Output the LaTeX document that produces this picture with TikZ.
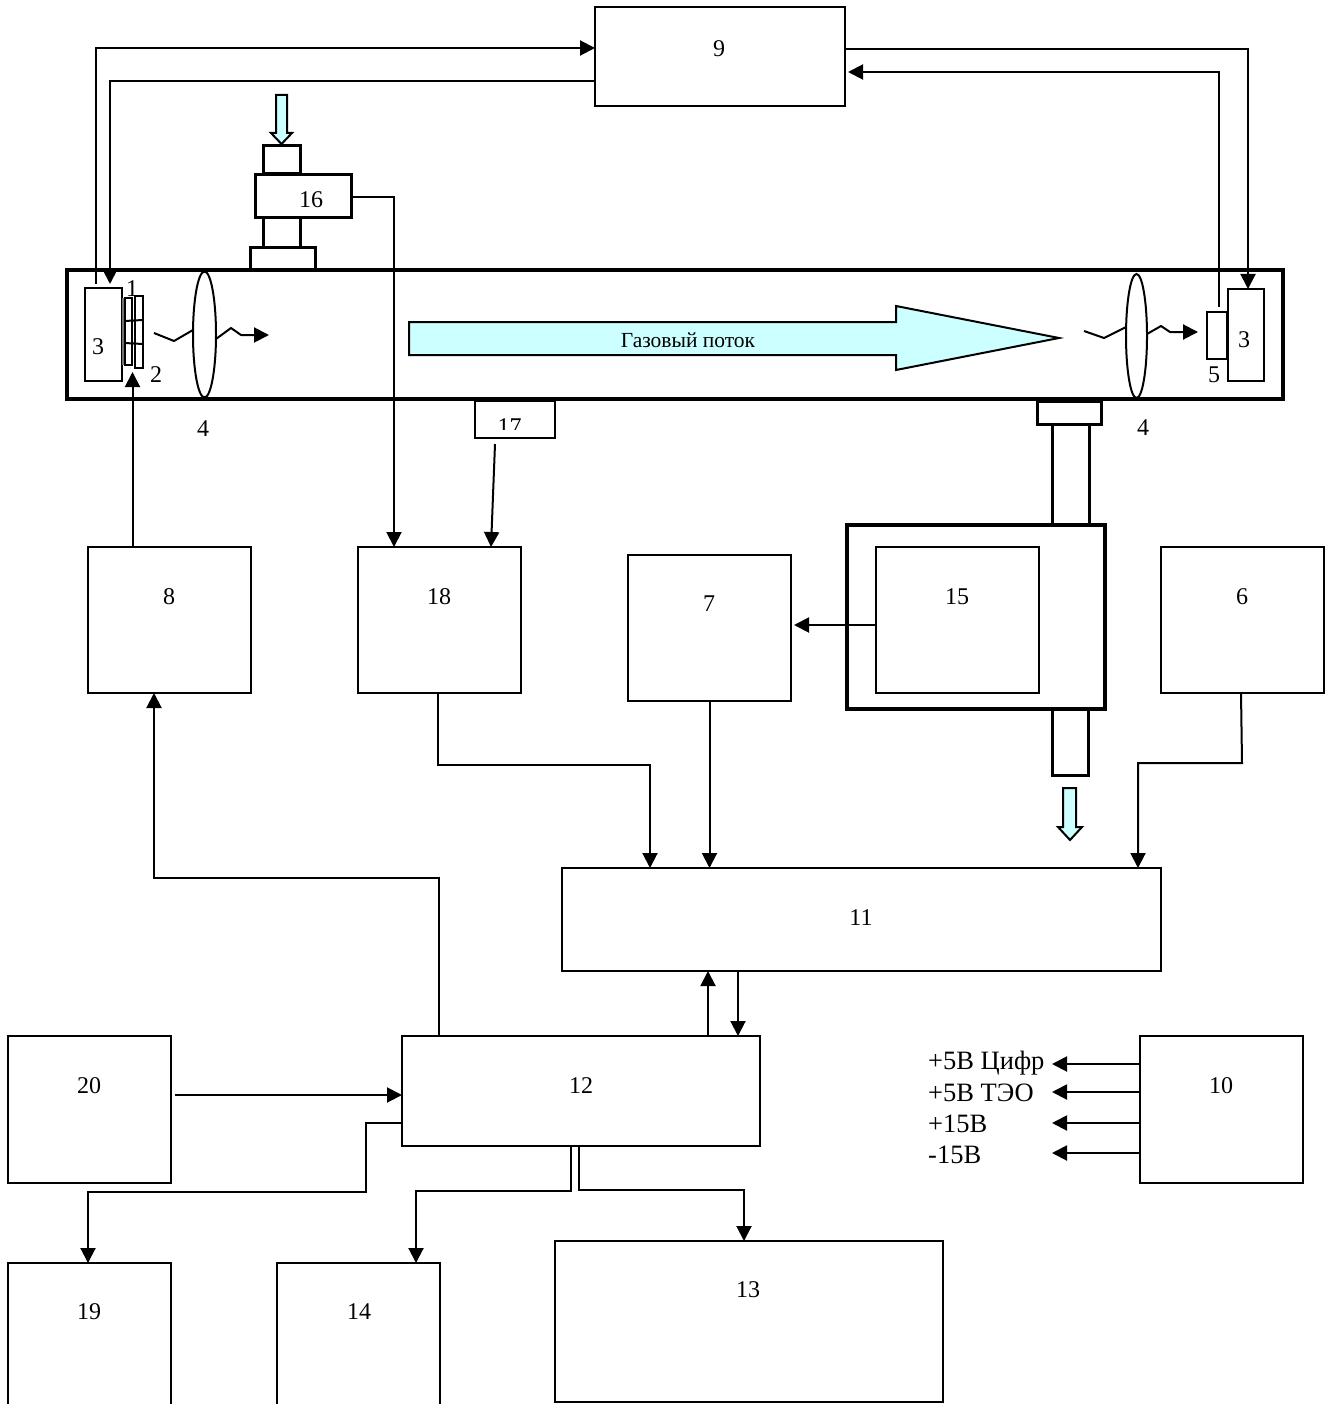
\documentclass[tikz,border=0pt]{standalone}
\usepackage{fontspec}
\setmainfont{Liberation Serif}
\usetikzlibrary{arrows.meta,shapes.geometric}
\definecolor{flow}{RGB}{204,255,255}
\tikzset{
  x=1pt,y=-1pt,
  base/.style={draw=black,fill=white,rectangle,inner sep=0pt,outer sep=0pt,line width=2pt},
  heavy/.style={base,line width=3.6pt},
  medium/.style={base,line width=3pt},
  wire/.style={draw=black,line width=2pt,line join=miter},
  arr/.style={wire,-{Triangle[length=15pt,width=15pt]}},
  wave/.style={wire,line join=round},
  lens/.style={draw=black,fill=white,ellipse,inner sep=0pt,outer sep=0pt,line width=2pt,minimum width=23pt},
  lbl/.style={inner sep=0pt,font=\fontsize{24}{24}\selectfont,anchor=center},
  vlbl/.style={inner sep=0pt,font=\fontsize{26.5}{26.5}\selectfont,anchor=west},
  flowline/.style={draw=black,fill=flow,line width=2pt,line join=miter}
}
% name, x1, y1, x2, y2, style
\newcommand{\bx}[6]{\node[#6,minimum width={(#4-#2)*1pt},minimum height={(#5-#3)*1pt}] (#1) at ({(#2+#4)/2},{(#3+#5)/2}) {};}
\begin{document}
\begin{tikzpicture}
\useasboundingbox (0,0) rectangle (1325,1404);
% main tube
\bx{tube}{67}{270}{1283}{399}{heavy}
% valve 16
\bx{top1}{263}{146}{300}{174}{medium}
\bx{low1}{263}{218}{300}{248}{medium}
\bx{b16}{255}{175}{351}{218}{medium}
\bx{flange1}{250}{248}{315}{270}{medium}
\node[lbl] (t16) at (311,200) {16};
\filldraw[flowline] (276,95) -- (287,95) -- (287,133) -- (292,133) -- (281.5,144) -- (271,133) -- (276,133) -- cycle;
% left optics
\bx{b3l}{85}{288}{122}{381}{base}
\fill[black!55] (122,298) rectangle (124.5,365);
\bx{e1}{124.5}{298}{132}{365}{base}
\bx{e2}{135}{296}{143}{368}{base}
\draw[wire] (e1.west |- 0,321) -- (e2.east |- 0,320);
\draw[wire] (e1.west |- 0,343) -- (e2.east |- 0,344);
\node[lbl] (t3l) at (98,347) {3};
\node[lbl] (t1) at (132,289) {1};
\node[lbl] (t2) at (156,375) {2};
\node[lens,minimum height=126pt] (lensl) at (204.5,334.5) {};
\node[lbl] (t4l) at (203,429) {4};
\coordinate (wl1) at (154,333);
\coordinate (wl2) at (269,335);
\draw[wave] (wl1) -- (174,341) -- (lensl.west |- 0,330);
\draw[wave,-{Triangle[length=15pt,width=15pt]}] (lensl.east |- 0,339) -- (231,328) -- (241,335) -- (wl2);
% right optics
\bx{b3r}{1228}{289}{1264}{381}{base}
\bx{b5}{1207}{312}{1227}{359}{base}
\node[lbl] (t3r) at (1244,340) {3};
\node[lbl] (t5) at (1214,375) {5};
\node[lens,minimum height=124pt,minimum width=21pt] (lensr) at (1136.5,336) {};
\node[lbl] (t4r) at (1143,428) {4};
\coordinate (wr1) at (1084,331);
\coordinate (wr2) at (1198,332);
\draw[wave] (wr1) -- (1104,338) -- (lensr.west |- 0,327);
\draw[wave,-{Triangle[length=15pt,width=15pt]}] (lensr.east |- 0,334) -- (1161,326) -- (1170,332) -- (wr2);
% gas flow
\filldraw[flowline] (409,322) -- (896,322) -- (896,306) -- (1059,338) -- (896,370) -- (896,355) -- (409,355) -- cycle;
\node[inner sep=0pt,font=\fontsize{21.5}{21.5}\selectfont] (gas) at (688,340) {Газовый поток};
% sensor 17
\bx{b17}{475}{401}{555}{438}{base}
\begin{scope}
\clip (475,410) rectangle (555,429);
\node[lbl] (t17) at (509.5,427) {17};
\end{scope}
% outlet structure
\bx{flange2}{1037}{401}{1101}{424}{medium}
\bx{tubeu}{1052}{424}{1089}{525}{medium}
\bx{tubed}{1052}{709}{1088}{775}{medium}
\bx{cell}{847}{525}{1105}{709}{heavy}
\bx{b15}{876}{547}{1039}{693}{base}
\node[lbl] (t15) at (957,597) {15};
\filldraw[flowline] (1063,788) -- (1076,788) -- (1076,827) -- (1082,827) -- (1070,840) -- (1058,827) -- (1063,827) -- cycle;
% plain boxes
\bx{b9}{595}{7}{845}{106}{base}
\bx{b8}{88}{547}{251}{693}{base}
\bx{b18}{358}{547}{521}{693}{base}
\bx{b7}{628}{555}{791}{701}{base}
\bx{b6}{1161}{547}{1324}{693}{base}
\bx{b11}{562}{868}{1161}{971}{base}
\bx{b12}{402}{1036}{760}{1146}{base}
\bx{b20}{8}{1036}{171}{1183}{base}
\bx{b10}{1140}{1036}{1303}{1183}{base}
\bx{b19}{8}{1263}{171}{1412}{base}
\bx{b14}{277}{1263}{440}{1412}{base}
\bx{b13}{555}{1241}{943}{1402}{base}
\node[lbl] (t9) at (719,49) {9};
\node[lbl] (t8) at (169,597) {8};
\node[lbl] (t18) at (439,597) {18};
\node[lbl] (t7) at (709,604) {7};
\node[lbl] (t6) at (1242,597) {6};
\node[lbl] (t11) at (861,918) {11};
\node[lbl] (t12) at (581,1086) {12};
\node[lbl] (t20) at (89,1086) {20};
\node[lbl] (t10) at (1221,1086) {10};
\node[lbl] (t19) at (89,1312) {19};
\node[lbl] (t14) at (359,1312) {14};
\node[lbl] (t13) at (748,1290) {13};
% connectors at the top
\coordinate (s3l) at (95.5,284);
\coordinate (s5) at (1219,307);
\coordinate (tip3l) at (110,284);
\coordinate (s20) at (175,1095);
\draw[arr] (s3l) |- (b9.west |- 0,48);
\draw[arr] (b9.west |- 0,81) -| (tip3l);
\draw[arr] (b9.east |- 0,49) -| (b3r.north -| 1248,0);
\draw[arr] (s5) |- (848,72);
\draw[arr] (b16.east |- 0,197) -| (b18.north -| 394,0);
\coordinate (s17) at (495,444);
\draw[arr] (s17) -- (b18.north -| 491,0);
\draw[arr] (b8.north -| 132.5,0) -- (132.5,372);
\draw[arr] (b15.west |- 0,625) -- (794,625);
% to block 11
\draw[arr] (b18.south -| 438,0) |- (650,765) -- (b11.north -| 650,0);
\draw[arr] (b7.south) -- (b11.north -| b7.south);
\draw[arr] (b6.south -| 1241,0) -- (1242,763) -- (1138,763) -- (b11.north -| 1138,0);
% block 12
\draw[arr] (b12.north -| 439,0) |- (154,878) -- (b8.south -| 154,0);
\draw[arr] (b12.north -| 708,0) -- (b11.south -| 708,0);
\draw[arr] (b11.south -| 738,0) -- (b12.north -| 738,0);
\draw[arr] (s20) -- (b12.west |- s20);
\draw[arr] (b12.west |- 0,1123) -- (366,1123) |- (88,1192) -- (b19.north -| 88,0);
\draw[arr] (b12.south -| 571,0) |- (416,1191) -- (b14.north -| 416,0);
\draw[arr] (b12.south -| 579,0) |- (744,1190) -- (b13.north -| 744,0);
% power supply
\coordinate (p1) at (1052,1064);
\coordinate (p2) at (1052,1092);
\coordinate (p3) at (1052,1123);
\coordinate (p4) at (1052,1153);
\draw[arr] (b10.west |- p1) -- (p1);
\draw[arr] (b10.west |- p2) -- (p2);
\draw[arr] (b10.west |- p3) -- (p3);
\draw[arr] (b10.west |- p4) -- (p4);
\node[vlbl] (v1) at (928,1063) {+5В Цифр};
\node[vlbl] (v2) at (928,1093) {+5В ТЭО};
\node[vlbl] (v3) at (928,1124) {+15В};
\node[vlbl] (v4) at (928,1155) {-15В};
\end{tikzpicture}
\end{document}
